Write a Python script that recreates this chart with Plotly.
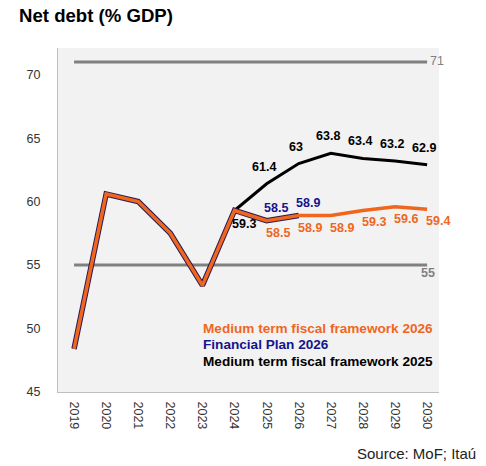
import plotly.graph_objects as go

years = [2019, 2020, 2021, 2022, 2023, 2024, 2025, 2026, 2027, 2028, 2029, 2030]
mtff_2026 = [48.4, 60.6, 60.0, 57.5, 53.4, 59.3, 58.5, 58.9, 58.9, 59.3, 59.6, 59.4]
fin_plan_2026 = [48.4, 60.6, 60.0, 57.5, 53.4, 59.3, 58.5, 58.9]
mtff_2025 = [48.4, 60.6, 60.0, 57.5, 53.4, 59.3, 61.4, 63.0, 63.8, 63.4, 63.2, 62.9]
upper_ref = 71
lower_ref = 55
y_ticks = [45, 50, 55, 60, 65, 70]
legend_names = ["Medium term fiscal framework 2026", "Financial Plan 2026",
                "Medium term fiscal framework 2025"]

ORANGE = "#F0661E"
NAVY = "#14148C"
BLACK = "#000000"
GREY = "#808080"
FONT = "Liberation Sans, Arial, sans-serif"

fig = go.Figure()

# reference lines
fig.add_trace(go.Scatter(x=[years[0], years[-1]], y=[upper_ref, upper_ref], mode="lines",
                         line=dict(color=GREY, width=3), hoverinfo="skip"))
fig.add_trace(go.Scatter(x=[years[0], years[-1]], y=[lower_ref, lower_ref], mode="lines",
                         line=dict(color=GREY, width=3), hoverinfo="skip"))

fig.add_trace(go.Scatter(x=years, y=mtff_2025, mode="lines", name=legend_names[2],
                         line=dict(color=BLACK, width=3)))
fig.add_trace(go.Scatter(x=years[:len(fin_plan_2026)], y=fin_plan_2026, mode="lines",
                         name=legend_names[1], line=dict(color="#2A1A50", width=5.5)))
fig.add_trace(go.Scatter(x=years, y=mtff_2026, mode="lines", name=legend_names[0],
                         line=dict(color=ORANGE, width=3.5)))

ann = []
def lab(x, y, text, color, dx, dy, size=12.5):
    ann.append(dict(x=x, y=y, xref="x", yref="y", text=f"<b>{text}</b>", showarrow=False,
                    xshift=dx, yshift=dy, font=dict(family=FONT, size=size, color=color)))

def fmt(v):
    return f"{v:g}"

# MTFF 2025 labels (black)
lab(years[5], mtff_2025[5], fmt(mtff_2025[5]), BLACK, 9, -14)
for i in range(6, len(years)):
    lab(years[i], mtff_2025[i], fmt(mtff_2025[i]), BLACK, -3, 17)
# Financial plan labels (navy)
for i in range(6, len(fin_plan_2026)):
    lab(years[i], fin_plan_2026[i], fmt(fin_plan_2026[i]), NAVY, 9, 13)
# MTFF 2026 labels (orange)
for i in range(6, len(years)):
    lab(years[i], mtff_2026[i], fmt(mtff_2026[i]), ORANGE, 11, -12)

# reference line labels
ann.append(dict(x=years[-1], y=upper_ref, xref="x", yref="y", text="71", showarrow=False,
                xanchor="left", xshift=1, yshift=1, font=dict(family=FONT, size=12.5, color=GREY)))
ann.append(dict(x=years[-1], y=lower_ref, xref="x", yref="y", text="<b>55</b>", showarrow=False,
                xanchor="left", xshift=-8, yshift=-8, font=dict(family=FONT, size=12.5, color=GREY)))

# custom legend
leg_colors = [ORANGE, NAVY, BLACK]
for k, (name, c) in enumerate(zip(legend_names, leg_colors)):
    ann.append(dict(x=201, y=466 - (328 + 16.5 * k), xref="paper", yref="paper",
                    text=f"<b>{name}</b>", showarrow=False, xanchor="left", yanchor="middle",
                    font=dict(family=FONT, size=13.6, color=c)))

# title and source
ann.append(dict(x=0, y=1, xref="paper", yref="paper", text="<b>Net debt (% GDP)</b>",
                showarrow=False, xanchor="left", yanchor="middle", font=dict(family=FONT, size=18.6, color="#000")))
ann.append(dict(x=1, y=0, xref="paper", yref="paper", text="Source: MoF; Itaú",
                showarrow=False, xanchor="right", yanchor="middle", font=dict(family=FONT, size=15, color="#222")))

# convert paper-pixel coordinates for legend/title/source
PL, PR, PT, PB = 58, 47, 48, 74
W, H = 486, 466
pw, ph = W - PL - PR, H - PT - PB
fixed = []
for a in ann:
    if a["xref"] == "paper":
        if "Net debt" in a["text"]:
            a["x"] = (17 - PL) / pw
            a["y"] = (H - 15 - PB) / ph
        elif "Source" in a["text"]:
            a["x"] = (478 - PL) / pw
            a["y"] = (H - 453 - PB) / ph
        else:
            a["x"] = (a["x"] - PL) / pw
            a["y"] = (a["y"] - PB) / ph
    fixed.append(a)

fig.update_layout(
    width=W, height=H,
    margin=dict(l=PL, r=PR, t=PT, b=PB),
    paper_bgcolor="white", plot_bgcolor="#F2F2F2",
    showlegend=False,
    font=dict(family=FONT, size=12, color="#333"),
    annotations=fixed,
    xaxis=dict(range=[2018.5, 2030.37], tickmode="array", tickvals=years,
               ticktext=[str(y) for y in years], tickangle=90, showgrid=False,
               zeroline=False, showline=True, linecolor="#BFBFBF", linewidth=1,
               ticks="", tickfont=dict(size=12.5, color="#333"), ticklabelstandoff=6),
    yaxis=dict(range=[45, 72.1], tickvals=y_ticks, showgrid=False, zeroline=False,
               showline=True, linecolor="#BFBFBF", linewidth=1, ticks="",
               tickfont=dict(size=12.5, color="#333"), ticklabelstandoff=14),
)

fig.write_html("out.html")
